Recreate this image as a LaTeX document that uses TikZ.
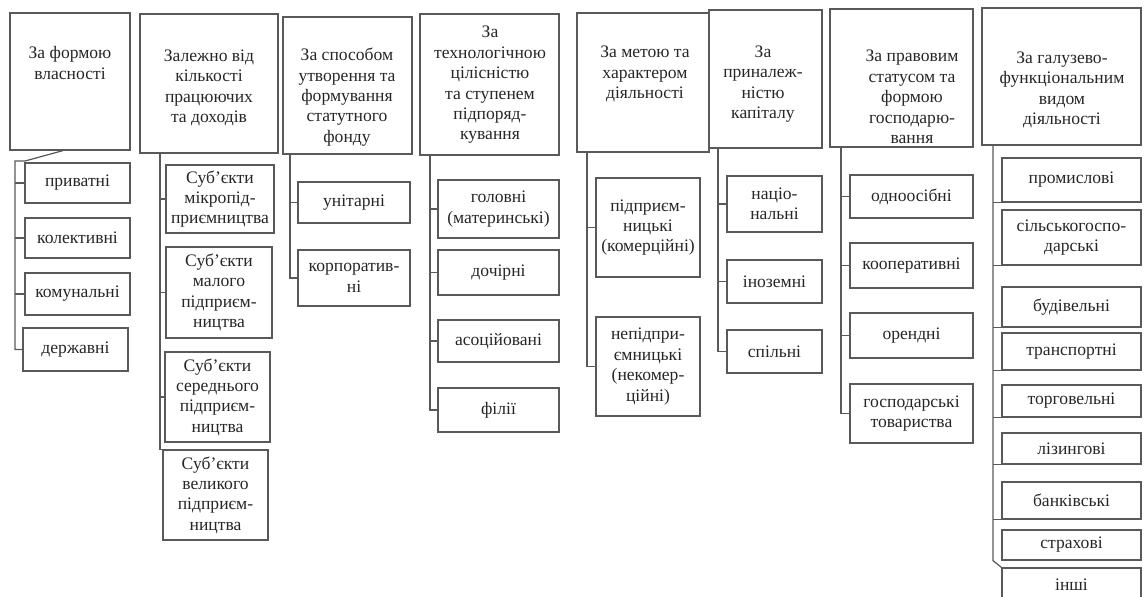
\documentclass[tikz,border=0pt]{standalone}
\usepackage{fontspec}
\setmainfont{Liberation Serif}
\usetikzlibrary{fit}

\begin{document}
\begin{tikzpicture}[
	x = 0.02cm, y = -0.02cm, % one unit = one pixel of the layout
	line width = 0.7pt,
	HB/.style={draw=black!65, inner sep=0pt},                                   % header box
	HT/.style={align=center, inner sep=0pt, text=black!85, font=\fontsize{10}{11.6}\selectfont}, % header text
	B/.style={draw=black!65, inner sep=0pt, align=center, text=black!85, font=\fontsize{10}{11.6}\selectfont},
	sz/.style 2 args={minimum width=#1cm, minimum height=#2cm},                 % box size
	link/.style={draw=black!65},
	]
	\useasboundingbox (0,0) rectangle (1144,596);
	\clip (0,0) rectangle (1144,596);

	% Header boxes
	\node[HB, fit={(10,13) (130,150)}]   (h1) {};
	\node[HB, fit={(140,14) (278,153)}]  (h2) {};
	\node[HB, fit={(283,17) (412,154)}]  (h3) {};
	\node[HB, fit={(420,14) (559,155)}]  (h4) {};
	\node[HB, fit={(577,13) (709,152)}]  (h5) {};
	\node[HB, fit={(709,10) (822,148)}]  (h6) {};
	\node[HB, fit={(830,9) (973,147)}]   (h7) {};
	\node[HB, fit={(982,8) (1141,145)}]  (h8) {};

	% Header texts
	\node[HT] (h1t) at (70,63)   {За формою\\власності};
	\node[HT] (h2t) at (209,88)  {Залежно від\\кількості\\працюючих\\та доходів};
	\node[HT] (h3t) at (347,97)  {За способом\\утворення та\\формування\\статутного\\фонду};
	\node[HT] (h4t) at (490,85)  {За\\технологічною\\цілісністю\\та ступенем\\підпоряд-\\кування};
	\node[HT] (h5t) at (645,74)  {За метою та\\характером\\діяльності};
	\node[HT] (h6t) at (763,84)  {За\\приналеж-\\ністю\\капіталу};
	\node[HT] (h7t) at (912,97)  {За правовим\\статусом та\\формою\\господарю-\\вання};
	\node[HT] (h8t) at (1062,90) {За галузево-\\функціональним\\видом\\діяльності};

	% Column 1
	\node[B, sz={2.1}{0.8}]  (c1a) at (77.5,183)   {приватні};
	\node[B, sz={2.1}{0.8}]  (c1b) at (77.5,238)   {колективні};
	\node[B, sz={2.1}{0.84}] (c1c) at (77.5,294)   {комунальні};
	\node[B, sz={2.1}{0.86}] (c1d) at (75.5,349.5) {державні};
	\coordinate (k1) at (25,161);
	\coordinate (t1) at (15,161);
	\draw[link] ([xshift=-0.14cm]h1.south) -- (k1) -- (t1) -- (t1 |- c1d.west) -- (c1d.west);
	\draw[link] (t1 |- c1a.west) -- (c1a.west);
	\draw[link] (t1 |- c1b.west) -- (c1b.west);
	\draw[link] (t1 |- c1c.west) -- (c1c.west);

	% Column 2
	\node[B, sz={2.16}{1.36}] (c2a) at (220,199)   {Суб’єкти\\мікропід-\\приємництва};
	\node[B, sz={2.12}{1.82}] (c2b) at (219,292.5) {Суб’єкти\\малого\\підприєм-\\ництва};
	\node[B, sz={2.1}{1.8}]   (c2c) at (217.5,397) {Суб’єкти\\середнього\\підприєм-\\ництва};
	\node[B, sz={2.1}{1.8}]   (c2d) at (215.5,495) {Суб’єкти\\великого\\підприєм-\\ництва};
	\coordinate (t2) at (160,153);
	\draw[link] (t2) -- (t2 |- c2d.north west) -- (c2d.north west);
	\draw[link] (t2 |- c2a.west) -- (c2a.west);
	\draw[link] (t2 |- c2b.west) -- (c2b.west);
	\draw[link] (t2 |- c2c.west) -- (c2c.west);

	% Column 3
	\node[B, sz={2.24}{0.82}] (c3a) at (354,202.5) {унітарні};
	\node[B, sz={2.24}{1.12}] (c3b) at (354,278)   {корпоратив-\\ні};
	\coordinate (t3) at (290,154);
	\draw[link] (t3) -- (t3 |- c3b.west) -- (c3b.west);
	\draw[link] (t3 |- c3a.west) -- (c3a.west);

	% Column 4
	\node[B, sz={2.42}{1.16}] (c4a) at (498.5,209)   {головні\\(материнські)};
	\node[B, sz={2.42}{0.9}]  (c4b) at (498.5,272.5) {дочірні};
	\node[B, sz={2.42}{0.84}] (c4c) at (498.5,341)   {асоційовані};
	\node[B, sz={2.42}{0.88}] (c4d) at (498.5,410)   {філії};
	\coordinate (t4) at (430,155);
	\draw[link] (t4) -- (t4 |- c4d.west) -- (c4d.west);
	\draw[link] (t4 |- c4a.west) -- (c4a.west);
	\draw[link] (t4 |- c4b.west) -- (c4b.west);
	\draw[link] (t4 |- c4c.west) -- (c4c.west);

	% Column 5
	\node[B, sz={2.08}{1.98}] (c5a) at (648,227.5) {підприєм-\\ницькі\\(комерційні)};
	\node[B, sz={2.08}{1.98}] (c5b) at (648,366.5) {непідпри-\\ємницькі\\(некомер-\\ційні)};
	\coordinate (t5) at (587,152);
	\draw[link] (t5) -- (t5 |- c5b.west) -- (c5b.west);
	\draw[link] (t5 |- c5a.west) -- (c5a.west);

	% Column 6
	\node[B, sz={1.9}{1.12}] (c6a) at (774.5,204)   {націо-\\нальні};
	\node[B, sz={1.9}{0.86}] (c6b) at (774.5,281.5) {іноземні};
	\node[B, sz={1.9}{0.86}] (c6c) at (774.5,351.5) {спільні};
	\coordinate (t6) at (718,148);
	\draw[link] (t6) -- (t6 |- c6c.west) -- (c6c.west);
	\draw[link] (t6 |- c6a.west) -- (c6a.west);
	\draw[link] (t6 |- c6b.west) -- (c6b.west);

	% Column 7
	\node[B, sz={2.46}{0.86}] (c7a) at (911.5,196.5) {одноосібні};
	\node[B, sz={2.46}{0.9}]  (c7b) at (911.5,265.5) {кооперативні};
	\node[B, sz={2.46}{0.9}]  (c7c) at (911.5,335.5) {орендні};
	\node[B, sz={2.46}{1.18}] (c7d) at (911.5,413.5) {господарські\\товариства};
	\coordinate (t7) at (841,147);
	\draw[link] (t7) -- (t7 |- c7d.west) -- (c7d.west);
	\draw[link] (t7 |- c7a.west) -- (c7a.west);
	\draw[link] (t7 |- c7b.west) -- (c7b.west);
	\draw[link] (t7 |- c7c.west) -- (c7c.west);

	% Column 8
	\node[B, sz={2.78}{0.88}] (c8a) at (1071.5,180)   {промислові};
	\node[B, sz={2.78}{1.1}]  (c8b) at (1071.5,237.5) {сільськогоспо-\\дарські};
	\node[B, sz={2.78}{0.8}]  (c8c) at (1071.5,307)   {будівельні};
	\node[B, sz={2.78}{0.74}] (c8d) at (1071.5,351.5) {транспортні};
	\node[B, sz={2.78}{0.64}] (c8e) at (1071.5,401)   {торговельні};
	\node[B, sz={2.78}{0.62}] (c8f) at (1071.5,448.5) {лізингові};
	\node[B, sz={2.78}{0.74}] (c8g) at (1071.5,500.5) {банківські};
	\node[B, sz={2.78}{0.6}]  (c8h) at (1071.5,545)   {страхові};
	\node[B, sz={2.78}{0.68}] (c8i) at (1071.5,585)   {інші};
	\coordinate (t8) at (993,145);
	\draw[link] (t8) -- (t8 |- c8h.south west) -- (c8i.north west);
	\draw[link] (t8 |- c8a.south west) -- (c8a.south west);
	\draw[link] (t8 |- c8b.south west) -- (c8b.south west);
	\draw[link] (t8 |- c8c.south west) -- (c8c.south west);
	\draw[link] (t8 |- c8d.south west) -- (c8d.south west);
	\draw[link] (t8 |- c8e.south west) -- (c8e.south west);
	\draw[link] (t8 |- c8f.south west) -- (c8f.south west);
	\draw[link] (t8 |- c8g.south west) -- (c8g.south west);

\end{tikzpicture}
\end{document}
